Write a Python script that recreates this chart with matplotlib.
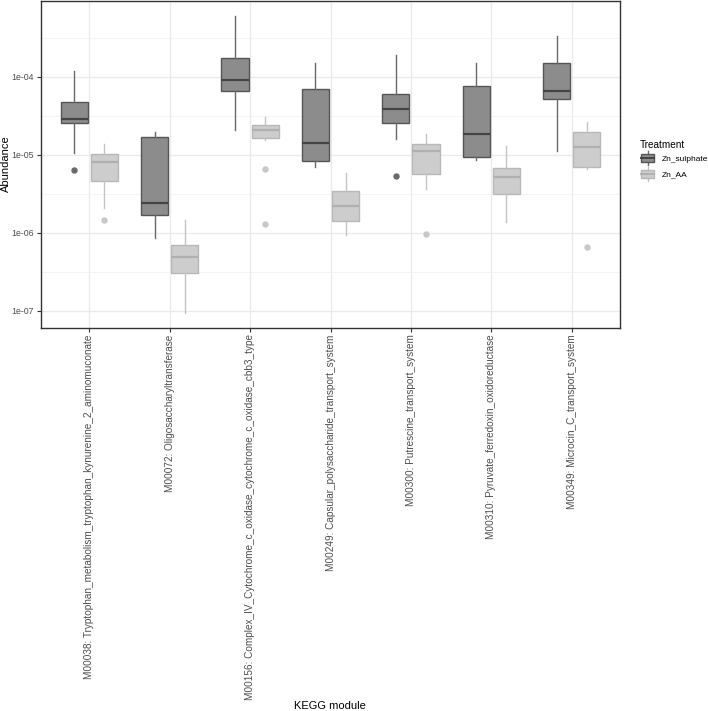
import matplotlib
matplotlib.use("Agg")
import matplotlib.pyplot as plt
from matplotlib.legend_handler import HandlerBase
from matplotlib.patches import Rectangle
from matplotlib.lines import Line2D
import matplotlib.ticker as mticker
import numpy as np

plt.rcParams['font.family'] = ['Liberation Sans', 'DejaVu Sans']

modules = [
    "M00038: Tryptophan_metabolism_tryptophan_kynurenine_2_aminomuconate",
    "M00072: Oligosaccharyltransferase",
    "M00156: Complex_IV_Cytochrome_c_oxidase_cytochrome_c_oxidase_cbb3_type",
    "M00249: Capsular_polysaccharide_transport_system",
    "M00300: Putrescine_transport_system",
    "M00310: Pyruvate_ferredoxin_oxidoreductase",
    "M00349: Microcin_C_transport_system",
]
treatments = ["Zn_sulphate", "Zn_AA"]

# Zn_sulphate summary statistics
sul_whislo = [1.06e-5, 8.5e-7, 2.07e-5, 6.9e-6, 1.6e-5, 8.6e-6, 1.11e-5]
sul_q1     = [2.52e-5, 1.68e-6, 6.5e-5, 8.4e-6, 2.54e-5, 9.4e-6, 5.2e-5]
sul_med    = [2.9e-5, 2.43e-6, 9.2e-5, 1.41e-5, 3.85e-5, 1.82e-5, 6.5e-5]
sul_q3     = [4.8e-5, 1.68e-5, 1.75e-4, 7.0e-5, 6.0e-5, 7.7e-5, 1.52e-4]
sul_whishi = [1.19e-4, 1.97e-5, 6.05e-4, 1.51e-4, 1.89e-4, 1.51e-4, 3.29e-4]
sul_out    = [[6.3e-6], [], [], [], [5.3e-6], [], []]

# Zn_AA summary statistics
aa_whislo = [2.05e-6, 9.4e-8, 1.52e-5, 9.3e-7, 3.6e-6, 1.38e-6, 6.6e-6]
aa_q1     = [4.6e-6, 3.07e-7, 1.62e-5, 1.40e-6, 5.6e-6, 3.16e-6, 6.9e-6]
aa_med    = [8.1e-6, 4.86e-7, 2.05e-5, 2.22e-6, 1.11e-5, 5.2e-6, 1.24e-5]
aa_q3     = [1.02e-5, 6.9e-7, 2.4e-5, 3.45e-6, 1.36e-5, 6.7e-6, 1.97e-5]
aa_whishi = [1.38e-5, 1.47e-6, 3.07e-5, 5.8e-6, 1.86e-5, 1.30e-5, 2.62e-5]
aa_out    = [[1.43e-6], [], [6.6e-6, 1.29e-6], [], [9.7e-7], [], [6.5e-7]]

ytick_vals = [1e-7, 1e-6, 1e-5, 1e-4]
ytick_labels = ["1e-07", "1e-06", "1e-05", "1e-04"]

W, H = 708, 711
fig = plt.figure(figsize=(W / 100, H / 100), dpi=100)
ax = fig.add_axes([41 / W, 1 - 327.5 / H, 579 / W, 327 / H])

styles = {
    "Zn_sulphate": dict(fill="#8c8c8c", edge="#555555", whisk="#6a6a6a", med="#444444", flier="#6a6a6a"),
    "Zn_AA": dict(fill="#cdcdcd", edge="#b8b8b8", whisk="#c4c4c4", med="#b0b0b0", flier="#c8c8c8"),
}

def make_stats(wl, q1, med, q3, wh, out):
    return [dict(whislo=a, q1=b, med=c, q3=d, whishi=e, fliers=f)
            for a, b, c, d, e, f in zip(wl, q1, med, q3, wh, out)]

x = np.arange(1, len(modules) + 1)
dodge = 0.1875
bw = 0.3375
for tr, stats, off in [
    ("Zn_sulphate", make_stats(sul_whislo, sul_q1, sul_med, sul_q3, sul_whishi, sul_out), -dodge),
    ("Zn_AA", make_stats(aa_whislo, aa_q1, aa_med, aa_q3, aa_whishi, aa_out), dodge),
]:
    s = styles[tr]
    ax.bxp(stats, positions=x + off, widths=bw, patch_artist=True, showcaps=False,
           boxprops=dict(facecolor=s["fill"], edgecolor=s["edge"], linewidth=1.0),
           whiskerprops=dict(color=s["whisk"], linewidth=1.0),
           medianprops=dict(color=s["med"], linewidth=1.6),
           flierprops=dict(marker="o", markersize=3.6, markerfacecolor=s["flier"],
                           markeredgecolor=s["flier"], linestyle="none"),
           manage_ticks=False, zorder=3)

ax.set_yscale("log")
ax.set_ylim(10 ** -7.218, 10 ** -3.022)
ax.set_xlim(0.4, len(modules) + 0.6)
ax.set_yticks(ytick_vals)
ax.set_yticklabels(ytick_labels)
ax.yaxis.set_minor_locator(mticker.FixedLocator([10 ** -6.5, 10 ** -5.5, 10 ** -4.5, 10 ** -3.5]))
ax.yaxis.set_minor_formatter(mticker.NullFormatter())
ax.set_xticks(x)
ax.set_xticklabels(modules, rotation=90)

ax.grid(True, which="major", color="#ebebeb", linewidth=1.0, zorder=0)
ax.grid(True, which="minor", axis="y", color="#f2f2f2", linewidth=0.6, zorder=0)
ax.set_axisbelow(True)
ax.tick_params(axis="both", which="major", length=3, width=0.8, color="#333333",
               labelcolor="#4d4d4d", pad=2)
ax.tick_params(axis="x", labelsize=7.2)
ax.tick_params(axis="y", labelsize=6.3)
ax.tick_params(axis="y", which="minor", length=0)
for sp in ax.spines.values():
    sp.set_color("#333333")
    sp.set_linewidth(1.0)

fig.text(5.5 / W, 1 - 163.5 / H, "Abundance", fontsize=8, rotation=90,
         ha="center", va="center")
fig.text(330 / W, 1 - 706 / H, "KEGG module", fontsize=8, ha="center", va="center")


class BoxHandler(HandlerBase):
    def create_artists(self, legend, orig_handle, xdescent, ydescent, width, height, fontsize, trans):
        s = styles[orig_handle]
        x0, y0 = -xdescent, -ydescent
        cx = x0 + width / 2
        arts = [
            Line2D([cx, cx], [y0 + height * 0.05, y0 + height * 0.95], color=s["whisk"], lw=1.0, transform=trans),
            Rectangle((x0 + width * 0.05, y0 + height * 0.22), width * 0.9, height * 0.56,
                      facecolor=s["fill"], edgecolor=s["edge"], lw=1.0, transform=trans),
            Line2D([x0 + width * 0.05, x0 + width * 0.95], [y0 + height / 2] * 2,
                   color=s["med"], lw=1.4, transform=trans),
        ]
        return arts


handles = treatments
leg = fig.legend(handles, treatments, handler_map={str: BoxHandler()},
                 loc="upper left", bbox_to_anchor=(634 / W, 1 - 134 / H),
                 title="Treatment", frameon=False, fontsize=6.0,
                 title_fontsize=7.2, handlelength=1.85, handleheight=2.4,
                 handletextpad=0.75, labelspacing=0.1, borderpad=0.2)
leg._legend_box.align = "left"

fig.savefig("out.png", dpi=100)
